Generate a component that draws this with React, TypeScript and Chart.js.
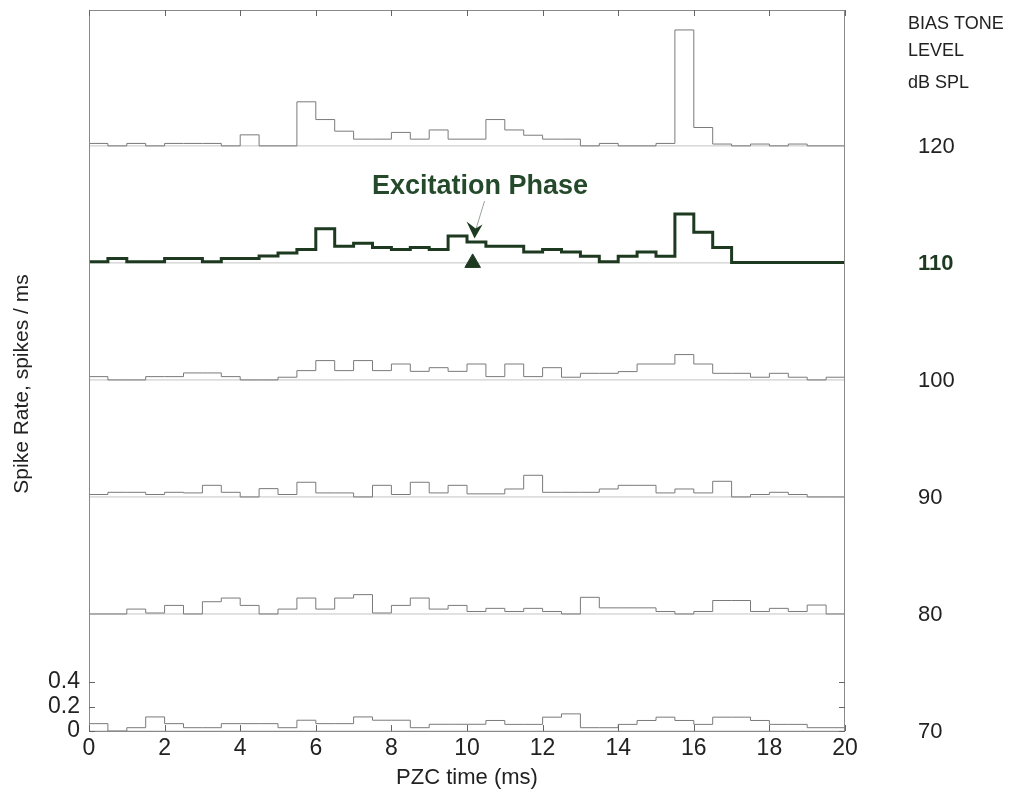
import React, { useEffect, useRef } from "react";
import { Chart, registerables } from "chart.js";

Chart.register(...registerables);

// Bias tone levels (dB SPL), bottom to top
const levels = [70, 80, 90, 100, 110, 120];
const highlightLevel = 110;
const binWidthMs = 0.5;
const xTicks = [0, 2, 4, 6, 8, 10, 12, 14, 16, 18, 20];
const yTicks = [0, 0.2, 0.4];
const markerX = [10.15];

// Spike rate (spikes/ms), 0.5 ms bins, 0–20 ms
const rate120 = [0.02, 0, 0.02, 0, 0.02, 0.02, 0.02, 0, 0.09, 0, 0, 0.36, 0.215, 0.12, 0.055, 0.055, 0.11, 0.055, 0.13, 0.055, 0.055, 0.215, 0.13, 0.087, 0.055, 0.055, 0, 0.02, 0, 0, 0.02, 0.947, 0.15, 0.015, 0, 0.015, 0, 0.015, 0, 0];
const rate110 = [0.01, 0.035, 0.01, 0.01, 0.035, 0.035, 0.01, 0.035, 0.035, 0.057, 0.08, 0.11, 0.28, 0.136, 0.16, 0.125, 0.11, 0.125, 0.11, 0.22, 0.17, 0.136, 0.136, 0.09, 0.11, 0.09, 0.055, 0.01, 0.055, 0.09, 0.055, 0.4, 0.25, 0.125, 0.003, 0.003, 0.003, 0.003, 0.003, 0.003];
const rate100 = [0.027, 0, 0, 0.027, 0.027, 0.057, 0.057, 0.027, 0, 0, 0.022, 0.076, 0.158, 0.076, 0.158, 0.076, 0.13, 0.07, 0.1, 0.07, 0.13, 0.027, 0.13, 0.027, 0.1, 0.022, 0.054, 0.054, 0.068, 0.13, 0.13, 0.207, 0.13, 0.054, 0.054, 0.022, 0.054, 0.022, 0, 0.022];
const rate90 = [0.02, 0.038, 0.038, 0.02, 0.038, 0.033, 0.095, 0.038, 0, 0.068, 0.02, 0.12, 0.033, 0.033, 0, 0.095, 0.02, 0.12, 0.033, 0.095, 0.025, 0.025, 0.065, 0.177, 0.038, 0.038, 0.038, 0.065, 0.095, 0.095, 0.033, 0.065, 0.033, 0.128, 0, 0.02, 0.038, 0.02, 0, 0];
const rate80 = [0, 0, 0.04, 0.008, 0.07, 0, 0.1, 0.13, 0.07, 0, 0.04, 0.13, 0.04, 0.13, 0.158, 0.008, 0.07, 0.13, 0.04, 0.07, 0.02, 0.046, 0.02, 0.046, 0.02, 0, 0.136, 0.05, 0.05, 0.05, 0.02, 0, 0.02, 0.11, 0.11, 0.02, 0.046, 0.02, 0.073, 0];
const rate70 = [0.06, 0, 0.027, 0.115, 0.06, 0.027, 0.027, 0.06, 0.06, 0.06, 0.027, 0.088, 0.06, 0.06, 0.115, 0.088, 0.088, 0.027, 0.055, 0.055, 0.055, 0.086, 0.054, 0.054, 0.113, 0.14, 0.027, 0.027, 0.054, 0.086, 0.113, 0.086, 0.054, 0.113, 0.113, 0.086, 0.054, 0.054, 0.027, 0.027];

const rates = [rate70, rate80, rate90, rate100, rate110, rate120];

// layout constants
const PANEL_STEP = 0.956; // vertical offset between stacked panels (y units)
const Y_MAX = 5.89;
const X_MAX = 20;
const GREEN = "#1d3a20";
const GRAY = "#7a7a7a";
const FONT = "'Liberation Sans', Arial, Helvetica, sans-serif";

export default function App() {
  const ref = useRef<HTMLCanvasElement | null>(null);

  useEffect(() => {
    if (!ref.current) return;

    const datasets: any[] = [];
    levels.forEach((lvl, i) => {
      const off = i * PANEL_STEP;
      datasets.push({
        type: "line",
        label: "base" + lvl,
        data: [
          { x: 0, y: off },
          { x: X_MAX, y: off },
        ],
        borderColor: "#c4c4c4",
        borderWidth: 1,
        pointRadius: 0,
        order: 3,
      });
    });
    levels.forEach((lvl, i) => {
      const off = i * PANEL_STEP;
      const vals = rates[i];
      const pts = vals.map((v, k) => ({ x: k * binWidthMs, y: off + v }));
      pts.push({ x: vals.length * binWidthMs, y: off + vals[vals.length - 1] });
      const hl = lvl === highlightLevel;
      datasets.push({
        type: "line",
        label: String(lvl),
        data: pts,
        stepped: true,
        borderColor: hl ? GREEN : GRAY,
        borderWidth: hl ? 3 : 1,
        pointRadius: 0,
        order: hl ? 1 : 2,
      });
    });
    const hlIdx = levels.indexOf(highlightLevel);
    datasets.push({
      type: "scatter",
      label: "marker",
      data: markerX.map((x) => ({ x, y: hlIdx * PANEL_STEP })),
      pointStyle: "triangle",
      pointRadius: 9,
      backgroundColor: GREEN,
      borderColor: GREEN,
      borderWidth: 1,
      order: 0,
    });

    const decor = {
      id: "decor",
      afterDraw(chart: any) {
        const ctx = chart.ctx;
        const xs = chart.scales.x;
        const ys = chart.scales.y;
        const a = chart.chartArea;
        ctx.save();
        // frame
        ctx.strokeStyle = "#8a8a8a";
        ctx.lineWidth = 1;
        ctx.strokeRect(a.left + 0.5, a.top + 0.5, a.right - a.left - 1, a.bottom - a.top);
        // x ticks (inward) top and bottom
        ctx.strokeStyle = "#666";
        xTicks.forEach((t) => {
          const px = Math.round(xs.getPixelForValue(t)) + 0.5;
          ctx.beginPath();
          ctx.moveTo(px, a.bottom);
          ctx.lineTo(px, a.bottom - 6);
          ctx.moveTo(px, a.top);
          ctx.lineTo(px, a.top + 6);
          ctx.stroke();
        });
        // y ticks (inward) left and right
        yTicks.forEach((t) => {
          const py = Math.round(ys.getPixelForValue(t)) + 0.5;
          ctx.beginPath();
          ctx.moveTo(a.left, py);
          ctx.lineTo(a.left + 6, py);
          ctx.moveTo(a.right, py);
          ctx.lineTo(a.right - 6, py);
          ctx.stroke();
        });
        // x tick labels
        ctx.fillStyle = "#222";
        ctx.font = `23px ${FONT}`;
        ctx.textAlign = "center";
        ctx.textBaseline = "middle";
        xTicks.forEach((t) => {
          ctx.fillText(String(t), xs.getPixelForValue(t), a.bottom + 18);
        });
        // y tick labels
        ctx.textAlign = "right";
        yTicks.forEach((t) => {
          ctx.fillText(t === 0 ? "0" : t.toFixed(1), a.left - 9, ys.getPixelForValue(t));
        });
        // x title
        ctx.textAlign = "center";
        ctx.font = `22px ${FONT}`;
        ctx.fillText("PZC time (ms)", 467, a.bottom + 47);
        // y title
        ctx.save();
        ctx.translate(22, 384);
        ctx.rotate(-Math.PI / 2);
        ctx.font = `21px ${FONT}`;
        ctx.fillText("Spike Rate, spikes / ms", 0, 0);
        ctx.restore();
        // right header
        ctx.textAlign = "left";
        ctx.font = `18px ${FONT}`;
        ctx.fillText("BIAS TONE", 908, 24);
        ctx.fillText("LEVEL", 908, 51);
        ctx.fillText("dB SPL", 908, 83);
        // level labels
        levels.forEach((lvl, i) => {
          const py = ys.getPixelForValue(i * PANEL_STEP);
          if (lvl === highlightLevel) {
            ctx.font = `bold 22px ${FONT}`;
            ctx.fillStyle = GREEN;
          } else {
            ctx.font = `22px ${FONT}`;
            ctx.fillStyle = "#222";
          }
          ctx.fillText(String(lvl), 918, py + 1);
        });
        // annotation text
        const hOff = hlIdx * PANEL_STEP;
        ctx.fillStyle = "#244a2b";
        ctx.font = `bold 27px ${FONT}`;
        ctx.textAlign = "center";
        ctx.fillText("Excitation Phase", 480, 187);
        // arrow
        const tipX = xs.getPixelForValue(10.2);
        const tipY = ys.getPixelForValue(hOff + 0.2);
        ctx.strokeStyle = "#9aa59a";
        ctx.lineWidth = 1;
        ctx.beginPath();
        ctx.moveTo(tipX + 10, 201);
        ctx.lineTo(tipX + 1, tipY - 8);
        ctx.stroke();
        ctx.fillStyle = GREEN;
        ctx.beginPath();
        ctx.moveTo(tipX, tipY);
        ctx.lineTo(tipX - 8, tipY - 17);
        ctx.lineTo(tipX + 1, tipY - 10);
        ctx.lineTo(tipX + 8, tipY - 14);
        ctx.closePath();
        ctx.fill();
        ctx.restore();
      },
    };

    const chart = new Chart(ref.current, {
      type: "line",
      data: { datasets },
      options: {
        animation: false,
        responsive: false,
        devicePixelRatio: 1,
        layout: { padding: { left: 89, top: 9, right: 164, bottom: 65 } },
        plugins: { legend: { display: false }, tooltip: { enabled: false } },
        scales: {
          x: { type: "linear", min: 0, max: X_MAX, display: false },
          y: { type: "linear", min: 0, max: Y_MAX, display: false },
        },
        elements: { line: { tension: 0 } },
      },
      plugins: [decor],
    } as any);

    return () => chart.destroy();
  }, []);

  return (
    <div style={{ position: "absolute", left: 0, top: 0, width: 1009, height: 796, background: "#fff" }}>
      <canvas ref={ref} width={1009} height={796} style={{ display: "block" }} />
    </div>
  );
}
